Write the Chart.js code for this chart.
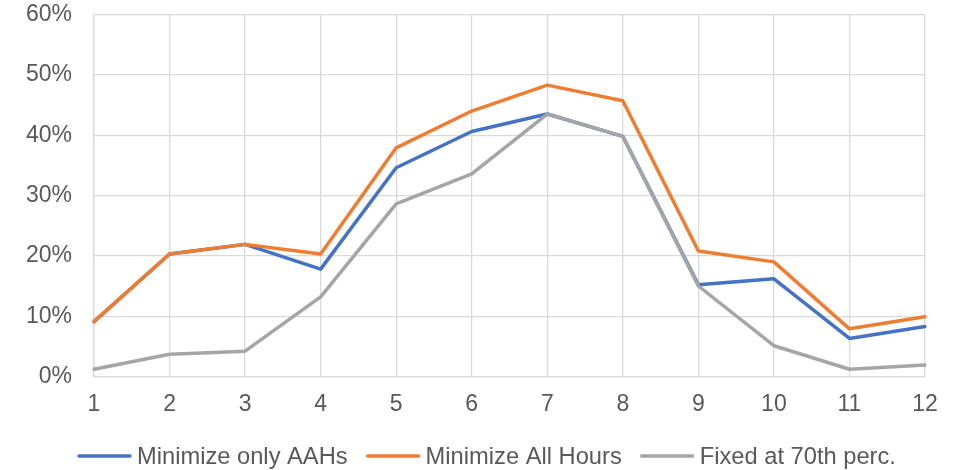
<!DOCTYPE html>
<html>
<head>
<meta charset="utf-8">
<script src="https://cdn.jsdelivr.net/npm/chart.js@4/dist/chart.umd.min.js"></script>
<style>
  html, body { margin: 0; padding: 0; background: #ffffff; }
  #wrap { width: 953px; height: 470px; position: relative; }
</style>
</head>
<body>
<div id="wrap"><canvas id="c"></canvas></div>
<script>
// Months 1..12 and share of hours (percent) for each strategy
const categories = ['1', '2', '3', '4', '5', '6', '7', '8', '9', '10', '11', '12'];
const minimizeAAHs = [9.1, 20.3, 21.9, 17.8, 34.6, 40.6, 43.5, 39.8, 15.2, 16.2, 6.3, 8.3];
const minimizeAllHours = [9.1, 20.3, 21.9, 20.3, 37.9, 44.0, 48.3, 45.7, 20.8, 19.0, 7.9, 9.9];
const fixed70th = [1.2, 3.7, 4.2, 13.2, 28.6, 33.6, 43.5, 39.8, 15.0, 5.1, 1.2, 1.9];
const yTicks = [0, 10, 20, 30, 40, 50, 60];
const seriesNames = ['Minimize only AAHs', 'Minimize All Hours', 'Fixed at 70th perc.'];

const FONT = '"Liberation Sans", Arial, sans-serif';
const TEXT = '#595959';
const GRID = '#D9D9D9';

// Legend drawn below the plot: short line swatch followed by the series name
const bottomLegend = {
  id: 'bottomLegend',
  afterDraw(chart) {
    const ctx = chart.ctx;
    const lineW = 55, gapText = 5, gapItem = 18, cy = 456;
    ctx.save();
    ctx.font = '23.7px ' + FONT;
    let x = 77;
    chart.data.datasets.forEach(d => {
      const w = ctx.measureText(d.label).width;
      ctx.strokeStyle = d.borderColor;
      ctx.lineWidth = 3.5;
      ctx.lineCap = 'round';
      ctx.beginPath();
      ctx.moveTo(x + 2, cy);
      ctx.lineTo(x + lineW - 2, cy);
      ctx.stroke();
      ctx.fillStyle = TEXT;
      ctx.textBaseline = 'middle';
      ctx.textAlign = 'left';
      ctx.fillText(d.label, x + lineW + gapText, cy + 1);
      x += lineW + gapText + w + gapItem;
    });
    ctx.restore();
  }
};

function series(label, data, color, order) {
  return {
    label, data, order,
    borderColor: color,
    backgroundColor: color,
    borderWidth: 3.5,
    borderJoinStyle: 'round',
    borderCapStyle: 'round',
    pointRadius: 0,
    pointHoverRadius: 0,
    tension: 0,
    fill: false
  };
}

new Chart(document.getElementById('c'), {
  type: 'line',
  data: {
    labels: categories,
    datasets: [
      series(seriesNames[0], minimizeAAHs, '#4472C4', 2),
      series(seriesNames[1], minimizeAllHours, '#ED7D31', 1),
      series(seriesNames[2], fixed70th, '#A5A5A5', 0)
    ]
  },
  options: {
    responsive: true,
    maintainAspectRatio: false,
    animation: false,
    layout: { padding: { top: 14.5, right: 28, bottom: 0, left: 0 } },
    plugins: {
      legend: { display: false },
      tooltip: { enabled: false }
    },
    scales: {
      x: {
        offset: false,
        grid: { color: GRID, lineWidth: 1.3, drawTicks: false },
        border: { color: GRID, width: 1.3 },
        ticks: { color: TEXT, font: { family: FONT, size: 23 }, padding: 14, maxRotation: 0, autoSkip: false },
        afterFit(scale) {
          scale.height = 93.5;
          scale.paddingLeft = 0;
          scale.paddingRight = 0;
        }
      },
      y: {
        min: 0,
        max: 60,
        afterBuildTicks(scale) { scale.ticks = yTicks.map(v => ({ value: v })); },
        grid: { color: GRID, lineWidth: 1.3, drawTicks: false },
        border: { color: GRID, width: 1.3 },
        ticks: {
          color: TEXT,
          font: { family: FONT, size: 23 },
          padding: 22,
          callback: v => v + '%'
        },
        afterFit(scale) {
          scale.width = 94;
          scale.paddingTop = 0;
          scale.paddingBottom = 0;
        }
      }
    }
  },
  plugins: [bottomLegend]
});
</script>
</body>
</html>
